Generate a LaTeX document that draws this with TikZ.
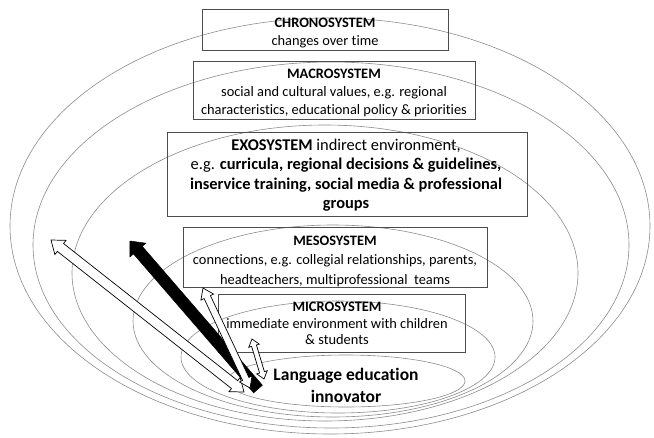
\documentclass[tikz,border=0pt]{standalone}
\usepackage{fontspec}
\setmainfont{Carlito}[Ligatures=NoCommon]
\usetikzlibrary{calc}
\definecolor{ringgray}{gray}{0.55}
\definecolor{boxgray}{gray}{0.3}
\tikzset{
  ring/.style={draw=ringgray, line width=0.6pt},
  sysbox/.style={draw=boxgray, line width=0.8pt, inner sep=0pt},
  systext/.style={align=center, inner sep=0pt, font=\fontsize{14.4}{18}\selectfont},
  hollowarrow/.style={draw=black, fill=white, line width=0.7pt, line join=miter},
  solidarrow/.style={draw=black, fill=black, line width=0.5pt, line join=miter}
}
% double-headed block arrow: #1 style, #2 A, #3 B, #4 shaft half width, #5 head half width, #6 head length
\newcommand\blockdbl[6]{%
  \draw[#1] (#2) -- ($(#2)!#6!(#3)!#5!90:(#3)$) -- ($(#2)!#6!(#3)!#4!90:(#3)$)
   -- ($(#3)!#6!(#2)!#4!-90:(#2)$) -- ($(#3)!#6!(#2)!#5!-90:(#2)$) -- (#3)
   -- ($(#3)!#6!(#2)!#5!90:(#2)$) -- ($(#3)!#6!(#2)!#4!90:(#2)$)
   -- ($(#2)!#6!(#3)!#4!-90:(#3)$) -- ($(#2)!#6!(#3)!#5!-90:(#3)$) -- cycle;}
% single-headed block arrow: tail #2, tip #3
\newcommand\blocksgl[6]{%
  \draw[#1] ($(#2)!#4!90:(#3)$) -- ($(#3)!#6!(#2)!#4!-90:(#2)$) -- ($(#3)!#6!(#2)!#5!-90:(#2)$)
   -- (#3) -- ($(#3)!#6!(#2)!#5!90:(#2)$) -- ($(#3)!#6!(#2)!#4!90:(#2)$)
   -- ($(#2)!#4!-90:(#3)$) -- cycle;}
\begin{document}
\begin{tikzpicture}[x=1pt,y=-1pt]
\useasboundingbox (0,0) rectangle (654,437);
% nested system rings
\draw[ring] (330,226) ellipse [x radius=320, y radius=208];
\draw[ring] (331,245) ellipse [x radius=298, y radius=183];
\draw[ring] (325,273) ellipse [x radius=253, y radius=148];
\draw[ring] (333,321) ellipse [x radius=200, y radius=96];
\draw[ring] (338,357) ellipse [x radius=157, y radius=56];
\draw[ring] (346,381) ellipse [x radius=119, y radius=26];
% system boxes
\node[sysbox, minimum width=246pt, minimum height=41pt] (chrono) at (325,29.5) {};
\node[sysbox, minimum width=282pt, minimum height=58pt] (macro) at (334,90) {};
\node[sysbox, minimum width=360pt, minimum height=84pt] (exo) at (347,174) {};
\node[sysbox, minimum width=304pt, minimum height=60pt] (meso) at (335,257) {};
\node[sysbox, minimum width=247pt, minimum height=58pt] (micro) at (341.5,323) {};
% box texts
\node[systext] (chronoText) at (325,33)
  {\textbf{CHRONOSYSTEM}\\changes over time};
\node[systext] (macroText) at (334,93)
  {\textbf{MACROSYSTEM}\\social and cultural values, e.g. regional\\characteristics, educational policy \& priorities};
\node[systext, font=\fontsize{16.4}{19.5}\selectfont] (exoText) at (346,175)
  {\textbf{EXOSYSTEM} indirect environment,\\e.g. \textbf{curricula, regional decisions \& guidelines,}\\\textbf{inservice training, social media \& professional}\\\textbf{groups}};
\node[systext, font=\fontsize{14.4}{19.5}\selectfont] (mesoText) at (335,261)
  {\textbf{MESOSYSTEM}\\connections, e.g. collegial relationships, parents,\\headteachers, multiprofessional\ \ teams};
\node[systext, font=\fontsize{14.4}{16.5}\selectfont] (microText) at (337,323.5)
  {\textbf{MICROSYSTEM}\\immediate environment with children\\\& students};
% innovator
\node[align=center, inner sep=0pt, font=\bfseries\fontsize{17.5}{22}\selectfont] (innov) at (346,385)
  {Language education\\innovator};
% arrow end points
\coordinate (longA) at (51,240);
\coordinate (longB) at (244,392);
\coordinate (blkT) at (258,389);
\coordinate (blkH) at (130,241);
\coordinate (medA) at (203,288);
\coordinate (medB) at (250,388);
\coordinate (smA) at (252,339);
\coordinate (smB) at (264,379);
% arrows
\blockdbl{hollowarrow}{longA}{longB}{5pt}{9pt}{12pt}
\blocksgl{solidarrow}{blkT}{blkH}{5.8pt}{10.5pt}{12pt}
\blockdbl{hollowarrow}{medA}{medB}{3.5pt}{7pt}{10pt}
\blockdbl{hollowarrow}{smA}{smB}{2.5pt}{5.5pt}{7pt}
\end{tikzpicture}
\end{document}
